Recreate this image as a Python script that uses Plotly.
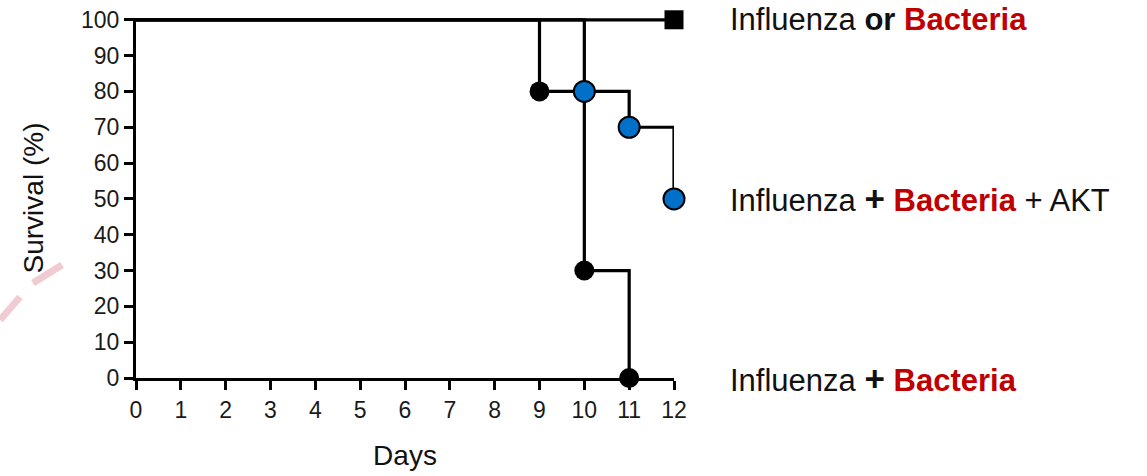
import plotly.graph_objects as go

# Data
days_ctrl = [0, 12]
surv_ctrl = [100, 100]
days_akt = [0, 10, 11, 12]
surv_akt = [100, 80, 70, 50]
days_fb = [0, 9, 10, 11]
surv_fb = [100, 80, 30, 0]
x_ticks = list(range(0, 13))
y_ticks = list(range(0, 101, 10))

RED = "#C00000"
BLUE = "#0070C8"
FONT = "Liberation Sans, Arial, sans-serif"

fig = go.Figure()

# lines
fig.add_trace(go.Scatter(x=days_ctrl, y=surv_ctrl, mode="lines", line=dict(color="black", width=3.2),
                         line_shape="hv", showlegend=False, cliponaxis=False))
fig.add_trace(go.Scatter(x=days_fb, y=surv_fb, mode="lines", line=dict(color="black", width=3.2),
                         line_shape="hv", showlegend=False, cliponaxis=False))
fig.add_trace(go.Scatter(x=days_akt, y=surv_akt, mode="lines", line=dict(color="black", width=3.2),
                         line_shape="hv", showlegend=False, cliponaxis=False))
# markers
fig.add_trace(go.Scatter(x=days_ctrl[-1:], y=surv_ctrl[-1:], mode="markers",
                         marker=dict(symbol="square", size=19, color="black"),
                         showlegend=False, cliponaxis=False))
fig.add_trace(go.Scatter(x=days_fb[1:], y=surv_fb[1:], mode="markers",
                         marker=dict(symbol="circle", size=20, color="black"),
                         showlegend=False, cliponaxis=False))
fig.add_trace(go.Scatter(x=days_akt[1:], y=surv_akt[1:], mode="markers",
                         marker=dict(symbol="circle", size=21, color=BLUE, line=dict(color="black", width=2)),
                         showlegend=False, cliponaxis=False))

fig.update_layout(
    width=1147, height=476,
    margin=dict(l=136, r=473, t=18, b=98),
    paper_bgcolor="white", plot_bgcolor="white",
    font=dict(family=FONT, color="#111111"),
    xaxis=dict(range=[0, 12], tickvals=x_ticks, ticktext=[str(v) for v in x_ticks],
               showgrid=False, zeroline=False, showline=True, linecolor="black", linewidth=3,
               ticks="outside", ticklen=9, tickwidth=3, tickcolor="black", automargin=False,
               tickfont=dict(size=23, family=FONT, color="#1a1a1a"),
               title=dict(text="Days", font=dict(size=28, family=FONT, color="#111111"), standoff=24)),
    yaxis=dict(range=[0, 100.5], tickvals=y_ticks, ticktext=[str(v) for v in y_ticks],
               showgrid=False, zeroline=False, showline=True, linecolor="black", linewidth=3,
               ticks="outside", ticklen=9, tickwidth=3, tickcolor="black", automargin=False,
               tickfont=dict(size=23, family=FONT, color="#1a1a1a"),
               title=dict(text="Survival (%)", font=dict(size=28, family=FONT, color="#111111"), standoff=30)),
)

PLUS = "<span style='font-size:35px'><b>+</b></span>"
labels = [
    (100, "Influenza <b>or</b> <b><span style='color:%s'>Bacteria</span></b>" % RED),
    (50, "Influenza %s <b><span style='color:%s'>Bacteria</span></b> + AKT" % (PLUS, RED)),
    (0, "Influenza %s <b><span style='color:%s'>Bacteria</span></b>" % (PLUS, RED)),
]
for yv, txt in labels:
    fig.add_annotation(x=1.101, xref="paper", y=yv, yref="y", text=txt, showarrow=False,
                       xanchor="left", yanchor="middle", font=dict(size=31, family=FONT, color="#111111"))

# faint watermark smudge
fig.add_shape(type="line", xref="paper", yref="paper",
              x0=(33 - 136) / 538, y0=(378 - 283) / 360, x1=(62 - 136) / 538, y1=(378 - 265) / 360,
              line=dict(color="rgba(225,140,155,0.45)", width=7))
fig.add_shape(type="line", xref="paper", yref="paper",
              x0=(0 - 136) / 538, y0=(378 - 320) / 360, x1=(20 - 136) / 538, y1=(378 - 297) / 360,
              line=dict(color="rgba(225,140,155,0.45)", width=7))

fig.write_html("out.html")
